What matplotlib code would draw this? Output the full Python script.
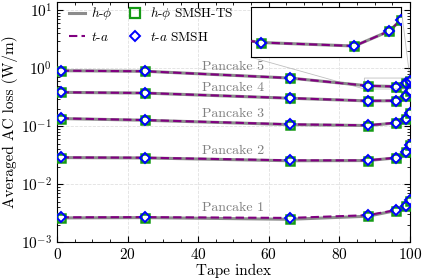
import numpy as np
import matplotlib
matplotlib.use("Agg")
import matplotlib.pyplot as plt
from matplotlib.ticker import MultipleLocator, LogLocator, NullFormatter

# LaTeX-like look
plt.rcParams['font.family'] = 'serif'
plt.rcParams['font.serif'] = ['cmr10']
plt.rcParams['mathtext.fontset'] = 'cm'
plt.rcParams['axes.formatter.use_mathtext'] = True

# Data
tape = [1, 25, 66, 88, 96, 99, 100]

# h-phi (SMSH-TS)
hphi_p1 = [0.00262, 0.00265, 0.00248, 0.00280, 0.00350, 0.00415, 0.0052]
hphi_p2 = [0.0288, 0.0284, 0.0254, 0.0256, 0.0284, 0.0355, 0.0480]
hphi_p3 = [0.136, 0.127, 0.107, 0.103, 0.114, 0.135, 0.170]
hphi_p4 = [0.385, 0.374, 0.305, 0.274, 0.276, 0.335, 0.41]
hphi_p5 = [0.91, 0.89, 0.68, 0.50, 0.485, 0.553, 0.61]

# t-a (SMSH)
ta_p1 = [0.00268, 0.00270, 0.00262, 0.00292, 0.00357, 0.0042, 0.0053]
ta_p2 = [0.0290, 0.0287, 0.0258, 0.0258, 0.0286, 0.0357, 0.0484]
ta_p3 = [0.137, 0.128, 0.108, 0.104, 0.115, 0.136, 0.172]
ta_p4 = [0.386, 0.375, 0.306, 0.275, 0.277, 0.336, 0.41]
ta_p5 = [0.91, 0.89, 0.68, 0.50, 0.485, 0.553, 0.61]

hphi_all = [hphi_p1, hphi_p2, hphi_p3, hphi_p4, hphi_p5]
ta_all = [ta_p1, ta_p2, ta_p3, ta_p4, ta_p5]
labels = ['Pancake 1', 'Pancake 2', 'Pancake 3', 'Pancake 4', 'Pancake 5']
label_y = [0.0039, 0.038, 0.166, 0.457, 1.07]

GRAY = '#8c8c8c'
PURPLE = '#800080'
GREEN = '#159a15'

fig = plt.figure(figsize=(4.23, 2.78), dpi=100)
ax = fig.add_axes([0.135, 0.129, 0.834, 0.864])


def draw(a, ms_sq=5.5, ms_di=5.5):
    for hp, ta in zip(hphi_all, ta_all):
        a.plot(tape, hp, color=GRAY, lw=2.2, zorder=2)
        a.plot(tape, ta, color=PURPLE, lw=1.5, ls=(0, (4, 2)), zorder=3)
        a.plot(tape, hp, ls='none', marker='s', ms=ms_sq, mfc='white',
               mec=GREEN, mew=1.8, zorder=4)
        a.plot(tape, ta, ls='none', marker='D', ms=ms_di, mfc='none',
               mec='blue', mew=1.4, zorder=5)


draw(ax)

for lab, yy in zip(labels, label_y):
    ax.text(50, yy, lab, color='#808080', fontsize=10, ha='center', va='center')

ax.set_yscale('log')
ax.set_xlim(0, 100)
ax.set_ylim(1e-3, 14)
ax.xaxis.set_major_locator(MultipleLocator(20))
ax.xaxis.set_minor_locator(MultipleLocator(5))
ax.yaxis.set_major_locator(LogLocator(base=10, numticks=10))
ax.yaxis.set_minor_locator(LogLocator(base=10, subs=np.arange(2, 10), numticks=50))
ax.yaxis.set_minor_formatter(NullFormatter())
ax.tick_params(which='both', direction='in', top=True, right=True, labelsize=11)
ax.tick_params(which='major', length=4)
ax.tick_params(which='minor', length=2)
ax.grid(True, which='major', ls='--', color='#e0e0e0', lw=0.6)
ax.set_axisbelow(True)
ax.set_xlabel('Tape index', fontsize=11, labelpad=1)
ax.set_ylabel('Averaged AC loss (W/m)', fontsize=11, labelpad=2)

# legend
h1, = ax.plot([], [], color=GRAY, lw=2.2, label=r'$h$-$\phi$')
h2, = ax.plot([], [], color=PURPLE, lw=1.5, ls=(0, (4, 2)), label=r'$t$-$a$')
h3, = ax.plot([], [], ls='none', marker='s', ms=6.5, mfc='none', mec=GREEN,
              mew=1.6, label=r'$h$-$\phi$ SMSH-TS')
h4, = ax.plot([], [], ls='none', marker='D', ms=5.5, mfc='none', mec='blue',
              mew=1.4, label=r'$t$-$a$ SMSH')
ax.legend(handles=[h1, h2, h3, h4], ncol=2, loc='upper left', frameon=False,
          fontsize=9.5, handlelength=1.2, handletextpad=0.5, columnspacing=1.1,
          bbox_to_anchor=(0, 1.035), labelspacing=0.65)

# inset zoom on Pancake 5 near the end
axins = ax.inset_axes([0.549, 0.77, 0.426, 0.208])
draw(axins, ms_sq=5.5, ms_di=5.5)
axins.set_yscale('log')
axins.set_xlim(87.1, 100)
axins.set_ylim(0.44, 0.68)
axins.set_xticks([])
axins.set_yticks([])
axins.set_yticks([], minor=True)
ax.indicate_inset_zoom(axins, edgecolor='#808080', lw=0.6)

fig.savefig('out.png', dpi=100)
